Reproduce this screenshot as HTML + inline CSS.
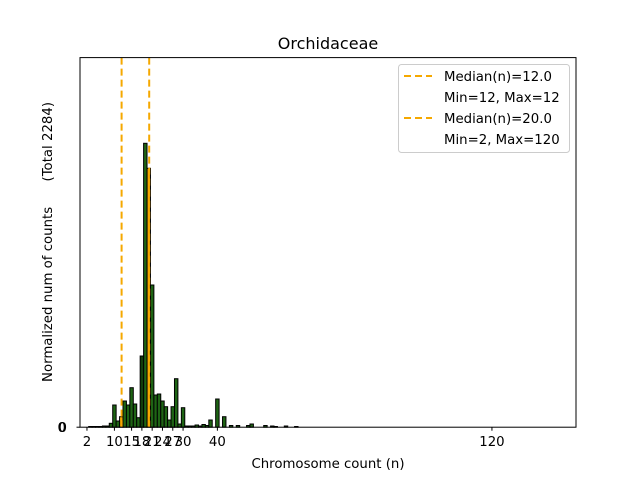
<!DOCTYPE html>
<html><head><meta charset="utf-8"><style>html,body{margin:0;padding:0;background:#fff}svg{display:block}text{font-family:"DejaVu Sans","Liberation Sans",sans-serif}</style></head>
<body>
<svg width="640" height="480" viewBox="0 0 640 480" xmlns="http://www.w3.org/2000/svg">
<rect width="640" height="480" fill="#fff"/>
<g id="bars" stroke="#000" stroke-width="1"></g>
<g stroke="#f5a800" stroke-width="2" stroke-dasharray="7,4" fill="none">
<line x1="121.6" y1="57.6" x2="121.6" y2="427.2"/>
<line x1="149.2" y1="57.6" x2="149.2" y2="427.2"/>
</g>
<rect x="80" y="57.6" width="496" height="369.6" fill="none" stroke="#000" stroke-width="1"/>
<g id="ticks" stroke="#000" stroke-width="1"></g>
<g font-size="13.3" fill="#000" text-anchor="middle" id="tl"></g>
<text x="66" y="432" font-size="13.3" text-anchor="end">0</text>
<text x="67" y="432" font-size="13.3" text-anchor="end">0</text>
<line x1="76.5" y1="427.2" x2="80" y2="427.2" stroke="#000"/>
<text x="328" y="468" font-size="13.3" text-anchor="middle">Chromosome count (n)</text>
<text transform="translate(52,242) rotate(-90)" font-size="13.3" text-anchor="middle" xml:space="preserve">Normalized num of counts      (Total 2284)</text>
<text x="328" y="49" font-size="16" text-anchor="middle">Orchidaceae</text>
<rect x="398.5" y="64.5" width="171" height="88" rx="3" fill="#fff" fill-opacity="0.8" stroke="#ccc"/>
<g stroke="#f5a800" stroke-width="2" stroke-dasharray="7,4"><line x1="404" y1="76" x2="432" y2="76"/><line x1="404" y1="118" x2="432" y2="118"/></g>
<g font-size="13.3"><text x="444" y="81">Median(n)=12.0</text><text x="444" y="102">Min=12, Max=12</text><text x="444" y="123">Median(n)=20.0</text><text x="444" y="144">Min=2, Max=120</text></g>
</svg>
<script>
var s=3.432,x0=80.1,base=427.2,ns="http://www.w3.org/2000/svg";
function bar(n,top,fill){var r=document.createElementNS(ns,"rect");r.setAttribute("x",x0+(n-0.5)*s);r.setAttribute("width",s);r.setAttribute("y",top);r.setAttribute("height",Math.max(base-top,0.5));r.setAttribute("fill",fill);document.getElementById("bars").appendChild(r);}
var g="#1e6414",o="#f5a800";
bar(12,416.7,o);bar(20,168.3,o);
var d=[[3,426.5],[4,426.5],[5,426.5],[6,426.5],[7,426],[8,426],[9,423.3],[10,405],[11,421],[13,401],[14,405],[15,387.7],[16,404],[17,417.7],[19,143.3],[21,285],[22,395],[23,394],[24,401],[25,406.7],[26,420],[27,406.7],[28,378.7],[29,424],[30,407.7],[31,426],[32,426],[33,426],[34,425],[35,426],[36,424.5],[37,425.5],[38,420],[40,399],[42,416.7],[44,425.5],[46,425.5],[49,425.5],[50,424],[54,425.5],[56,426],[57,426.5],[60,426],[63,426.5]];
d.forEach(function(a){bar(a[0],a[1],g)});
bar(18,356,"#123d0c");
var t=[2,10,15,18,21,24,27,30,40,120];
t.forEach(function(n){var x=x0+n*s;var l=document.createElementNS(ns,"line");l.setAttribute("x1",x);l.setAttribute("x2",x);l.setAttribute("y1",427.2);l.setAttribute("y2",430.7);document.getElementById("ticks").appendChild(l);var tx=document.createElementNS(ns,"text");tx.setAttribute("x",x);tx.setAttribute("y",446);tx.textContent=n;document.getElementById("tl").appendChild(tx);});
</script>
</body></html>
